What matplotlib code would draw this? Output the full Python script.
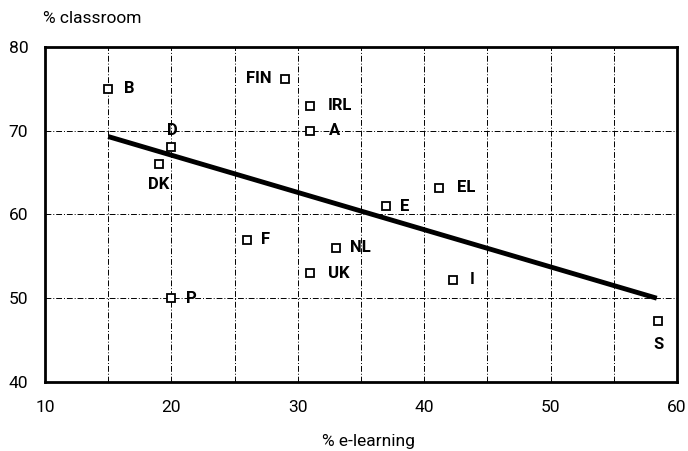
import matplotlib
matplotlib.use("Agg")
import matplotlib.pyplot as plt

plt.rcParams['font.family'] = ['Roboto', 'DejaVu Sans']

countries = ["B", "FIN", "IRL", "A", "D", "DK", "E", "EL", "F", "NL", "UK", "P", "I", "S"]
e_learning = [15, 29, 31, 31, 20, 19, 37, 41.2, 26, 33, 31, 20, 42.3, 58.5]
classroom = [75, 76.2, 73, 70, 68, 66, 61, 63.2, 57, 56, 53, 50, 52.2, 47.3]
trend_x = [15, 58.4]
trend_y = [69.3, 50.0]
x_ticks = [10, 20, 30, 40, 50, 60]
y_ticks = [40, 50, 60, 70, 80]

# label offsets in pixels (dx, dy) and alignment
label_style = {
    "B": (16, 0, "left", "center"),
    "FIN": (-14, 0, "right", "center"),
    "IRL": (17, 0, "left", "center"),
    "A": (19, 0, "left", "center"),
    "D": (1, 17, "center", "center"),
    "DK": (0, -20, "center", "center"),
    "E": (14, 0, "left", "center"),
    "EL": (18, 0, "left", "center"),
    "F": (14, 0, "left", "center"),
    "NL": (14, 0, "left", "center"),
    "UK": (18, 0, "left", "center"),
    "P": (15, 0, "left", "center"),
    "I": (16, 0, "left", "center"),
    "S": (0, -24, "center", "center"),
}

fig = plt.figure(figsize=(6.88, 4.51), dpi=100)
ax = fig.add_axes([0.0654, 0.153, 0.9186, 0.743])
ax.set_xlim(10, 60)
ax.set_ylim(40, 80)

for gx in range(15, 60, 5):
    ax.axvline(gx, color="black", lw=0.7, ls=(0, (6, 2, 1, 2)), zorder=1)
for gy in [50, 60, 70]:
    ax.axhline(gy, color="black", lw=0.7, ls=(0, (6, 2, 1, 2)), zorder=1)

ax.plot(trend_x, trend_y, color="black", lw=3.5, solid_capstyle="butt", zorder=2)

ax.plot(e_learning, classroom, ls="none", marker="s", ms=5.5, mfc="white",
        mec="black", mew=1.3, zorder=3)

for c, x, y in zip(countries, e_learning, classroom):
    dx, dy, ha, va = label_style[c]
    ax.annotate(c, (x, y), xytext=(dx, dy), textcoords="offset pixels",
                ha=ha, va=va, fontsize=12, fontweight="bold", zorder=4)

ax.set_xticks(x_ticks)
ax.set_yticks(y_ticks)
ax.tick_params(axis="x", length=0, labelsize=12.5, pad=13)
ax.tick_params(axis="y", length=0, labelsize=12.5, pad=12)
for s in ax.spines.values():
    s.set_linewidth(2)

fig.text(0.0625, 0.96, "% classroom", fontsize=12.5, ha="left", va="center")
fig.text(0.536, 0.02, "% e-learning", fontsize=12.5, ha="center", va="center")

fig.savefig("out.png", dpi=100)
